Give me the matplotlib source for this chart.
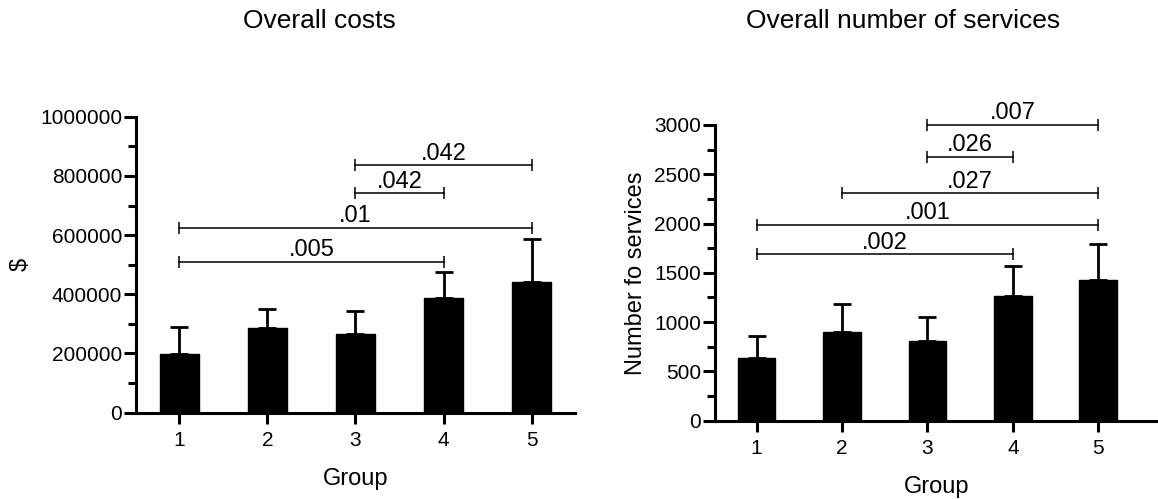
import numpy as np
import matplotlib
matplotlib.use('Agg')
import matplotlib.pyplot as plt
from matplotlib.ticker import MultipleLocator, StrMethodFormatter

plt.rcParams['font.family'] = ['Liberation Sans', 'DejaVu Sans']

groups = [1, 2, 3, 4, 5]

# Overall costs ($): mean and upper error bar
cost_mean = [198000, 285000, 267000, 388000, 441000]
cost_err = [91000, 65000, 75000, 86000, 146000]
# (group a, group b, height, label)
cost_pairs = [(1, 4, 509000, '.005'), (1, 5, 624000, '.01'),
              (3, 4, 741000, '.042'), (3, 5, 836000, '.042')]

# Overall number of services
serv_mean = [632, 900, 805, 1268, 1427]
serv_err = [227, 284, 250, 305, 362]
serv_pairs = [(1, 4, 1688, '.002'), (1, 5, 1985, '.001'), (2, 5, 2307, '.027'),
              (3, 4, 2679, '.026'), (3, 5, 3000, '.007')]


def draw_panel(ax, means, errs, pairs, ymax, major, minor, ylabel, ylabelpad):
    ax.bar(groups, means, width=0.44, color='black', edgecolor='black', zorder=2)
    ax.errorbar(groups, means, yerr=[np.zeros(len(errs)), errs], fmt='none',
                ecolor='black', elinewidth=2, capsize=6.5, capthick=2, zorder=1)
    for a, b, h, lab in pairs:
        ax.plot([a, b], [h, h], color='black', lw=1.1, marker='|', ms=9, mew=1.1,
                clip_on=False, zorder=3)
        ax.annotate(lab, xy=((a + b) / 2, h), xytext=(0, 0.5), textcoords='offset points',
                    ha='center', va='bottom', fontsize=17, annotation_clip=False)
    ax.set_ylim(0, ymax)
    ax.yaxis.set_major_locator(MultipleLocator(major))
    ax.yaxis.set_minor_locator(MultipleLocator(minor))
    ax.yaxis.set_major_formatter(StrMethodFormatter('{x:.0f}'))
    ax.set_xticks(groups)
    ax.spines['top'].set_visible(False)
    ax.spines['right'].set_visible(False)
    ax.spines['left'].set_linewidth(2.2)
    ax.spines['bottom'].set_linewidth(2.2)
    ax.tick_params(axis='y', which='major', length=9, width=2.2, labelsize=15, pad=1)
    ax.tick_params(axis='y', which='minor', length=6, width=2.2)
    ax.tick_params(axis='x', which='major', length=8, width=2.2, labelsize=15, pad=5)
    ax.set_xlabel('Group', fontsize=17, labelpad=13)
    ax.set_ylabel(ylabel, fontsize=17, labelpad=ylabelpad)


fig = plt.figure(figsize=(11.58, 4.99), dpi=100)

ax1 = fig.add_axes([0.1174, 0.173, 0.3791, 0.593])
draw_panel(ax1, cost_mean, cost_err, cost_pairs, 1000000, 200000, 100000, '$', 6)
ax1.set_xlim(0.51, 5.49)

ax2 = fig.add_axes([0.6174, 0.157, 0.3826, 0.5926])
draw_panel(ax2, serv_mean, serv_err, serv_pairs, 3000, 500, 250, 'Number fo services', 5)
ax2.set_xlim(0.512, 5.70)

fig.text(0.276, 0.958, 'Overall costs', ha='center', va='center', fontsize=19)
fig.text(0.780, 0.958, 'Overall number of services', ha='center', va='center', fontsize=19)

plt.savefig('out.png', dpi=100)
plt.close()
